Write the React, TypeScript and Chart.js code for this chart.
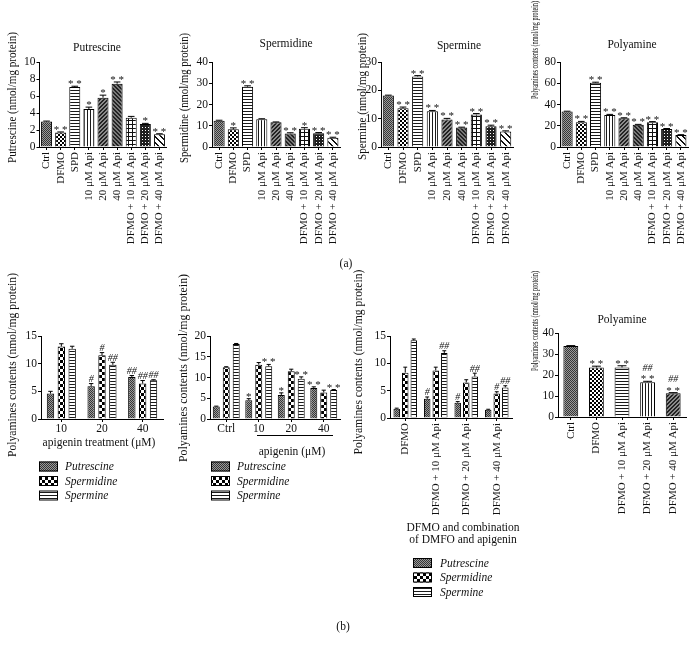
import React, { useEffect, useRef } from "react";
import { Chart, registerables } from "chart.js";
Chart.register(...registerables);

const W = 693;
const H = 649;
const SERIF = "'Liberation Serif', 'Times New Roman', 'DejaVu Serif', serif";

// ---------------- (a) top row data ----------------
const treatments = ["Ctrl", "DFMO", "SPD", "10 μM Api", "20 μM Api", "40 μM Api", "DFMO + 10 μM Api", "DFMO + 20 μM Api", "DFMO + 40 μM Api"];
const treatmentFills = ["fine", "checkSmall", "hlines", "vlines", "diagA", "diagB", "grid", "dots", "wideDiag"];

const putrescine = [3.0, 1.72, 7.05, 4.47, 5.8, 7.45, 3.45, 2.7, 1.5];
const putrescineErr = [0.05, 0.05, 0.1, 0.22, 0.3, 0.2, 0.15, 0.08, 0.06];
const putrescineSig = ["", "**", "**", "*", "*", "**", "", "*", "**"];

const spermidine = [12.4, 8.3, 28.4, 13.1, 11.6, 6.4, 8.6, 6.5, 4.3];
const spermidineErr = [0.2, 0.7, 0.4, 0.2, 0.2, 0.3, 0.5, 0.3, 0.3];
const spermidineSig = ["", "*", "**", "", "", "**", "*", "**", "**"];

const spermine = [18.2, 13.7, 24.9, 12.6, 9.7, 6.9, 11.5, 7.3, 5.5];
const spermineErr = [0.1, 0.4, 0.3, 0.3, 0.4, 0.1, 0.3, 0.4, 0.2];
const spermineSig = ["", "**", "**", "**", "**", "**", "**", "**", "**"];

const polyamine = [33.5, 23.3, 60.5, 30.2, 27.0, 21.0, 23.3, 16.9, 11.2];
const polyamineErr = [0.2, 0.8, 0.5, 0.5, 0.5, 0.3, 0.6, 0.5, 0.4];
const polyamineSig = ["", "**", "**", "**", "**", "**", "**", "**", "**"];

// ---------------- (b) bottom row data ----------------
const seriesNames = ["Putrescine", "Spermidine", "Spermine"];
const seriesFills = ["fine", "checkBig", "hlines"];

const b1Groups = ["10", "20", "40"];
const b1Put = [4.6, 5.9, 7.6];
const b1PutErr = [0.4, 0.5, 0.25];
const b1PutSig = ["", "#", "##"];
const b1Spd = [13.1, 11.5, 6.4];
const b1SpdErr = [0.5, 0.5, 0.55];
const b1SpdSig = ["", "#", "##"];
const b1Spm = [12.7, 9.8, 7.0];
const b1SpmErr = [0.45, 0.45, 0.1];
const b1SpmSig = ["", "##", "##"];

const b2Groups = ["Ctrl", "10", "20", "40"];
const b2Put = [3.0, 4.5, 5.8, 7.5];
const b2PutErr = [0.1, 0.4, 0.5, 0.25];
const b2PutSig = ["", "*", "*", "**"];
const b2Spd = [12.5, 13.1, 11.5, 6.4];
const b2SpdErr = [0.1, 0.5, 0.5, 0.55];
const b2SpdSig = ["", "", "", ""];
const b2Spm = [18.1, 12.7, 9.7, 7.0];
const b2SpmErr = [0.1, 0.45, 0.45, 0.1];
const b2SpmSig = ["", "**", "**", "**"];

const b3Groups = ["DFMO", "DFMO + 10 μM Api", "DFMO + 20 μM Api", "DFMO + 40 μM Api"];
const b3Put = [1.7, 3.5, 2.8, 1.5];
const b3PutErr = [0.1, 0.35, 0.2, 0.1];
const b3PutSig = ["", "#", "#", ""];
const b3Spd = [8.3, 8.7, 6.5, 4.5];
const b3SpdErr = [1.0, 0.6, 0.5, 0.3];
const b3SpdSig = ["", "", "", "#"];
const b3Spm = [14.2, 11.9, 7.6, 5.6];
const b3SpmErr = [0.25, 0.4, 0.6, 0.3];
const b3SpmSig = ["", "##", "##", "##"];

const b4Categories = ["Ctrl", "DFMO", "DFMO + 10 μM Api", "DFMO + 20 μM Api", "DFMO + 40 μM Api"];
const b4Fills = ["fine", "checkSmall", "hlines", "vlines", "diagA"];
const b4Values = [33.8, 23.6, 23.6, 16.6, 11.3];
const b4Err = [0.2, 0.6, 0.8, 0.4, 0.3];
const b4Sig = ["", "**", "**", "##\n**", "##\n**"];

const yTitleA = ["Putrescine (nmol/mg protein)", "Spermidine (nmol/mg protein)", "Spermine (nmol/mg protein)", "Polyamines contents (nmol/mg protein)"];
const yTitleB = "Polyamines contents (nmol/mg protein)";

// ---------------- patterns ----------------
function makePattern(kind: string): any {
  const c = document.createElement("canvas");
  const n =
    kind === "checkBig" || kind === "wideDiag" ? 6 :
    kind === "fine" ? 2 :
    kind === "hlines" || kind === "vlines" || kind === "dots" ? 3 : 4;
  c.width = n;
  c.height = n;
  const g = c.getContext("2d")!;
  const px = (x: number, y: number, col: string, w = 1, h = 1) => {
    g.fillStyle = col;
    g.fillRect(x, y, w, h);
  };
  switch (kind) {
    case "fine": px(0, 0, "#9a9a9a", 2, 2); px(0, 0, "#363636"); px(1, 1, "#363636"); break;
    case "checkSmall": px(0, 0, "#fff", 4, 4); px(0, 0, "#000", 2, 2); px(2, 2, "#000", 2, 2); break;
    case "checkBig": px(0, 0, "#fff", 6, 6); px(0, 0, "#000", 3, 3); px(3, 3, "#000", 3, 3); break;
    case "hlines": px(0, 0, "#fff", 3, 3); px(0, 0, "#1a1a1a", 3, 1); break;
    case "vlines": px(0, 0, "#fff", 3, 3); px(0, 0, "#1a1a1a", 1, 3); break;
    case "diagA": px(0, 0, "#8a8a8a", 4, 4); for (let i = 0; i < 4; i++) { px(3 - i, i, "#222"); px((6 - i) % 4, i, "#222"); } break;
    case "diagB": px(0, 0, "#777", 4, 4); for (let i = 0; i < 4; i++) { px(i, i, "#222"); px((i + 1) % 4, i, "#222"); } break;
    case "grid": px(0, 0, "#fff", 4, 4); px(0, 0, "#111", 4, 1); px(0, 0, "#111", 1, 4); break;
    case "dots": px(0, 0, "#1e1e1e", 3, 3); px(1, 1, "#fff"); break;
    case "wideDiag": px(0, 0, "#fff", 6, 6); for (let i = 0; i < 6; i++) { px(i, i, "#111"); px((i + 1) % 6, i, "#111"); } break;
  }
  return g.createPattern(c, "repeat");
}

// ---------------- panel specs ----------------
type Txt = { t: string; x: number; y: number; size?: number; rot?: boolean; len?: number; hs?: number; italic?: boolean };
type Series = { values: number[]; errors: number[]; marks: string[]; fill: string | string[] };
type Panel = {
  labels: string[];
  series: Series[];
  area: [number, number, number, number];
  yMax: number;
  yStep: number;
  rotate: boolean;
  barPct: number;
  catPct: number;
  texts: Txt[];
  lines?: [number, number, number, number][];
  legend?: { x: number; y: number; tx: number };
};

const topArea: [number, number, number, number][] = [
  [39.5, 62, 166.5, 147],
  [212, 62, 340, 147],
  [381, 62, 513, 147],
  [560, 62, 688, 147],
];

const panels: Panel[] = [
  {
    labels: treatments,
    series: [{ values: putrescine, errors: putrescineErr, marks: putrescineSig, fill: treatmentFills }],
    area: topArea[0], yMax: 10, yStep: 2, rotate: true, barPct: 0.78, catPct: 1,
    texts: [
      { t: "Putrescine", x: 97, y: 48 },
      { t: yTitleA[0], x: 13, y: 97.5, rot: true, len: 131 },
      { t: "(a)", x: 346, y: 264 },
    ],
  },
  {
    labels: treatments,
    series: [{ values: spermidine, errors: spermidineErr, marks: spermidineSig, fill: treatmentFills }],
    area: topArea[1], yMax: 40, yStep: 10, rotate: true, barPct: 0.78, catPct: 1,
    texts: [
      { t: "Spermidine", x: 286, y: 44 },
      { t: yTitleA[1], x: 185, y: 98, rot: true, len: 130 },
    ],
  },
  {
    labels: treatments,
    series: [{ values: spermine, errors: spermineErr, marks: spermineSig, fill: treatmentFills }],
    area: topArea[2], yMax: 30, yStep: 10, rotate: true, barPct: 0.76, catPct: 1,
    texts: [
      { t: "Spermine", x: 459, y: 46 },
      { t: yTitleA[2], x: 362.5, y: 96.5, rot: true, len: 127 },
    ],
  },
  {
    labels: treatments,
    series: [{ values: polyamine, errors: polyamineErr, marks: polyamineSig, fill: treatmentFills }],
    area: topArea[3], yMax: 80, yStep: 20, rotate: true, barPct: 0.78, catPct: 1,
    texts: [
      { t: "Polyamine", x: 632, y: 45 },
      { t: yTitleA[3], x: 536, y: 50, rot: true, len: 98, hs: 0.82 },
    ],
  },
  {
    labels: b1Groups,
    series: [
      { values: b1Put, errors: b1PutErr, marks: b1PutSig, fill: seriesFills[0] },
      { values: b1Spd, errors: b1SpdErr, marks: b1SpdSig, fill: seriesFills[1] },
      { values: b1Spm, errors: b1SpmErr, marks: b1SpmSig, fill: seriesFills[2] },
    ],
    area: [41, 336, 163, 419], yMax: 15, yStep: 5, rotate: false, barPct: 0.68, catPct: 0.8,
    texts: [
      { t: yTitleB, x: 13, y: 365, rot: true, len: 184 },
      { t: "apigenin treatment (μM)", x: 99, y: 443, size: 11.5 },
      { t: "(b)", x: 343, y: 627 },
    ],
    legend: { x: 39, y: 466.5, tx: 65 },
  },
  {
    labels: b2Groups,
    series: [
      { values: b2Put, errors: b2PutErr, marks: b2PutSig, fill: seriesFills[0] },
      { values: b2Spd, errors: b2SpdErr, marks: b2SpdSig, fill: seriesFills[1] },
      { values: b2Spm, errors: b2SpmErr, marks: b2SpmSig, fill: seriesFills[2] },
    ],
    area: [210, 336, 340, 419], yMax: 20, yStep: 5, rotate: false, barPct: 0.7, catPct: 0.92,
    texts: [
      { t: yTitleB, x: 183.5, y: 368, rot: true, len: 188 },
      { t: "apigenin (μM)", x: 292, y: 452, size: 11.5 },
    ],
    lines: [[257, 435.5, 333, 435.5]],
    legend: { x: 211, y: 466.5, tx: 237 },
  },
  {
    labels: b3Groups,
    series: [
      { values: b3Put, errors: b3PutErr, marks: b3PutSig, fill: seriesFills[0] },
      { values: b3Spd, errors: b3SpdErr, marks: b3SpdSig, fill: seriesFills[1] },
      { values: b3Spm, errors: b3SpmErr, marks: b3SpmSig, fill: seriesFills[2] },
    ],
    area: [390, 336, 512, 418], yMax: 15, yStep: 5, rotate: true, barPct: 0.76, catPct: 0.84,
    texts: [
      { t: yTitleB, x: 358.5, y: 362, rot: true, len: 185 },
      { t: "DFMO and combination", x: 463, y: 528, size: 11.5 },
      { t: "of DMFO and apigenin", x: 463, y: 540, size: 11.5 },
    ],
    legend: { x: 413, y: 563, tx: 440 },
  },
  {
    labels: b4Categories,
    series: [{ values: b4Values, errors: b4Err, marks: b4Sig, fill: b4Fills }],
    area: [558, 333, 686, 417], yMax: 40, yStep: 10, rotate: true, barPct: 0.58, catPct: 1,
    texts: [
      { t: "Polyamine", x: 622, y: 320 },
      { t: yTitleB, x: 536, y: 321, rot: true, len: 100, hs: 0.82 },
    ],
  },
];

// ---------------- drawing helpers ----------------
function drawText(ctx: CanvasRenderingContext2D, t: Txt) {
  ctx.save();
  ctx.fillStyle = "#111";
  ctx.font = `${t.italic ? "italic " : ""}${t.size || 11.5}px ${SERIF}`;
  ctx.textAlign = "center";
  ctx.textBaseline = "middle";
  ctx.translate(t.x, t.y);
  if (t.rot) ctx.rotate(-Math.PI / 2);
  if (t.len) {
    const w = ctx.measureText(t.t).width;
    ctx.scale(t.len / w, t.hs || 1);
  }
  ctx.fillText(t.t, 0, 0);
  ctx.restore();
}

function overlay(p: Panel) {
  return {
    id: "overlay",
    afterDatasetsDraw(chart: any) {
      const ctx: CanvasRenderingContext2D = chart.ctx;
      const ys = chart.scales.y;
      p.series.forEach((s, di) => {
        const meta = chart.getDatasetMeta(di);
        meta.data.forEach((el: any, i: number) => {
          const top = ys.getPixelForValue(s.values[i] + s.errors[i]);
          const half = el.width * 0.3;
          ctx.save();
          ctx.strokeStyle = "#000";
          ctx.lineWidth = 1;
          ctx.beginPath();
          ctx.moveTo(el.x, el.y);
          ctx.lineTo(el.x, top);
          ctx.moveTo(el.x - half, top);
          ctx.lineTo(el.x + half, top);
          ctx.stroke();
          const m = s.marks[i];
          if (m) {
            const rows = m.split("\n");
            let base = top - 1.5;
            for (let k = rows.length - 1; k >= 0; k--) {
              const row = rows[k];
              const hash = row.includes("#");
              ctx.fillStyle = "#111";
              ctx.textAlign = "center";
              ctx.textBaseline = "alphabetic";
              ctx.font = `${hash ? "italic " : ""}${hash ? 10 : 11}px ${SERIF}`;
              ctx.fillText(hash ? row : row.split("").join(" "), el.x, hash ? base : base + 2.5);
              base -= 9;
            }
          }
          ctx.restore();
        });
      });
    },
    afterDraw(chart: any) {
      const ctx: CanvasRenderingContext2D = chart.ctx;
      p.texts.forEach((t) => drawText(ctx, t));
      (p.lines || []).forEach(([x1, y1, x2, y2]) => {
        ctx.save();
        ctx.strokeStyle = "#000";
        ctx.lineWidth = 1;
        ctx.beginPath();
        ctx.moveTo(x1, y1);
        ctx.lineTo(x2, y2);
        ctx.stroke();
        ctx.restore();
      });
      if (p.legend) {
        const L = p.legend;
        seriesNames.forEach((name, i) => {
          const cy = L.y + i * 14.5;
          ctx.save();
          ctx.fillStyle = makePattern(seriesFills[i]);
          ctx.fillRect(L.x, cy - 5, 19, 10);
          ctx.strokeStyle = "#000";
          ctx.lineWidth = 1;
          ctx.strokeRect(L.x + 0.5, cy - 4.5, 18, 9);
          ctx.fillStyle = "#111";
          ctx.font = `italic 11.5px ${SERIF}`;
          ctx.textAlign = "left";
          ctx.textBaseline = "middle";
          ctx.fillText(name, L.tx, cy + 0.5);
          ctx.restore();
        });
      }
    },
  };
}

function PanelChart({ p }: { p: Panel }) {
  const ref = useRef<HTMLCanvasElement>(null);
  useEffect(() => {
    const canvas = ref.current!;
    const [l, t, r, b] = p.area;
    const YW = 30;
    const XH = p.rotate ? 100 : 20;
    const fix = (size: number, horiz: boolean) => (s: any) => {
      if (horiz) s.height = size;
      else s.width = size;
      s.paddingLeft = 0;
      s.paddingRight = 0;
      s.paddingTop = 0;
      s.paddingBottom = 0;
    };
    const datasets = p.series.map((s) => ({
      data: s.values,
      backgroundColor: Array.isArray(s.fill) ? s.fill.map(makePattern) : makePattern(s.fill),
      borderColor: "#000",
      borderWidth: 1,
      barPercentage: p.barPct,
      categoryPercentage: p.catPct,
    }));
    const chart = new Chart(canvas, {
      type: "bar",
      data: { labels: p.labels, datasets },
      options: {
        animation: false,
        responsive: false,
        devicePixelRatio: 1,
        events: [],
        layout: { padding: { left: l - YW, top: t, right: W - r, bottom: H - b - XH } },
        plugins: { legend: { display: false }, title: { display: false }, tooltip: { enabled: false } },
        scales: {
          x: {
            type: "category",
            offset: true,
            grid: { display: true, drawOnChartArea: false, offset: false, tickLength: 3, color: "#000", lineWidth: 1 },
            border: { display: true, color: "#000", width: 1 },
            ticks: {
              autoSkip: false,
              maxRotation: p.rotate ? 90 : 0,
              minRotation: p.rotate ? 90 : 0,
              color: "#111",
              font: { family: SERIF, size: p.rotate ? 11 : 11.5 },
              padding: p.rotate ? 2 : 0,
            },
            afterFit: fix(XH, true),
          },
          y: {
            min: 0,
            max: p.yMax,
            ticks: { stepSize: p.yStep, color: "#111", font: { family: SERIF, size: 11.5 }, padding: 1 },
            grid: { display: true, drawOnChartArea: false, tickLength: 3, color: "#000", lineWidth: 1 },
            border: { display: true, color: "#000", width: 1 },
            afterFit: fix(YW, false),
          },
        },
      } as any,
      plugins: [overlay(p)],
    });
    return () => chart.destroy();
  }, []);
  return (
    <canvas
      ref={ref}
      width={W}
      height={H}
      style={{ position: "absolute", left: 0, top: 0, width: W, height: H, pointerEvents: "none" }}
    />
  );
}

export default function App() {
  return (
    <div style={{ position: "absolute", left: 0, top: 0, width: W, height: H, background: "#fff", overflow: "hidden" }}>
      {panels.map((p, i) => (
        <PanelChart key={i} p={p} />
      ))}
    </div>
  );
}
